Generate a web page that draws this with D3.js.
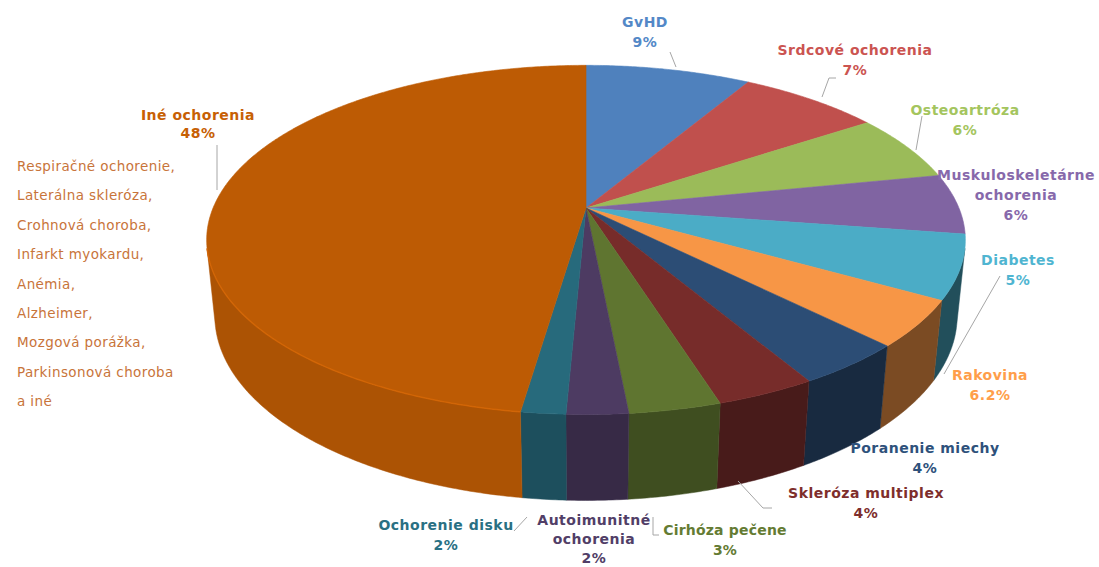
<!DOCTYPE html>
<html><head><meta charset="utf-8">
<script src="https://cdn.jsdelivr.net/npm/d3@7"></script>
<style>body{margin:0;background:#fff}</style></head>
<body><svg id="c" width="1099" height="567"></svg>
<script>
const categories = ["GvHD","Srdcové ochorenia","Osteoartróza","Muskuloskeletárne ochorenia","Diabetes","Rakovina","Poranenie miechy","Skleróza multiplex","Cirhóza pečene","Autoimunitné ochorenia","Ochorenie disku","Iné ochorenia"];
const values = [8.4, 7.2, 6.2, 5.6, 5.9, 4.3, 4.0, 3.6, 3.3, 2.2, 1.6, 47.7];
const percentLabels = ["9%","7%","6%","6%","5%","6.2%","4%","4%","3%","2%","2%","48%"];
const labelLines = [["GvHD"],["Srdcové ochorenia"],["Osteoartróza"],["Muskuloskeletárne","ochorenia"],["Diabetes"],["Rakovina"],["Poranenie miechy"],["Skleróza multiplex"],["Cirhóza pečene"],["Autoimunitné","ochorenia"],["Ochorenie disku"],["Iné ochorenia"]];
const otherDiseases = ["Respiračné ochorenie,","Laterálna skleróza,","Crohnová choroba,","Infarkt myokardu,","Anémia,","Alzheimer,","Mozgová porážka,","Parkinsonová choroba","a iné"];
const colors = ["#4F81BD","#C0504D","#9BBB59","#8064A2","#4BACC6","#F79646","#2C4D75","#772C2A","#5F7530","#4D3B62","#276A7C","#BD5B04"];

// layout (screen)
const labelPos = [[645,27],[855,55],[965,115],[1016,180],[1018,265],[990,380],[925,453],[866,498],[725,535],[594,525],[446,530],[198,120]];
const leaders = [
  [[670,52],[676,67]],
  [[836,78],[829,78],[822,97]],
  [[922,116],[916,150]],
  null,
  [[1000,276],[944,374]],
  null, null,
  [[738,481],[763,508],[772,508]],
  [[653,517],[653,535],[659,535]],
  null,
  [[514,531],[527,517]],
  [[217,145],[217,190]]
];

const svg = d3.select("#c");
const cx = 586, cy = 208;
const tilt = 26.9 * Math.PI/180;
const Dcam = 4.88, focal = 1820, thick = 0.23;

function proj(theta, y) {
  const X = Math.sin(theta), Z = Math.cos(theta);
  const yc = y*Math.cos(tilt) + Z*Math.sin(tilt);
  const zc = Dcam + Z*Math.cos(tilt) - y*Math.sin(tilt);
  return [cx + focal*X/zc, cy - focal*yc/zc];
}
function arcPts(a0, a1, y) {
  const n = Math.max(2, Math.ceil(Math.abs(a1-a0)/(Math.PI/360)));
  return d3.range(n+1).map(i => proj(a0 + (a1-a0)*i/n, y));
}
const line = d3.line();

const pie = d3.pie().sort(null).value(d => d)(values);

// visible wall range
const cLim = -1/(Dcam*Math.cos(tilt));
const wLo = Math.acos(cLim), wHi = 2*Math.PI - wLo;

const gWall = svg.append("g");
pie.forEach((p, i) => {
  const lo = Math.max(p.startAngle, wLo), hi = Math.min(p.endAngle, wHi);
  if (hi <= lo) return;
  const mid = (lo+hi)/2;
  const t = Math.max(0.08, 0.28 + 0.28*Math.sin(mid));
  const col = d3.interpolateRgb(colors[i], "#000")(t);
  const pts = arcPts(lo, hi, 0).concat(arcPts(hi, lo, -thick));
  gWall.append("path").attr("d", line(pts) + "Z").attr("fill", col).attr("stroke", col).attr("stroke-width", 0.5);
});

const gTop = svg.append("g");
pie.forEach((p, i) => {
  const pts = [[cx, cy]].concat(arcPts(p.startAngle, p.endAngle, 0));
  const col = colors[i];
  gTop.append("path").attr("d", line(pts) + "Z").attr("fill", col).attr("stroke", col).attr("stroke-width", 0.6).attr("stroke-linejoin","round");
});
// light rim on the front edge of the largest slice
const big = pie[11];
svg.append("path").attr("d", line(arcPts(Math.max(big.startAngle, wLo), Math.min(big.endAngle, wHi), 0)))
  .attr("fill","none").attr("stroke", d3.color(colors[11]).brighter(0.35)).attr("stroke-width", 1.5).attr("opacity", 0.8);

// leader lines
leaders.forEach(l => {
  if (!l) return;
  svg.append("path").attr("d", line(l)).attr("fill","none").attr("stroke","#a6a6a6").attr("stroke-width",1);
});

// labels
const font = "'DejaVu Sans', Verdana, sans-serif";
categories.forEach((c, i) => {
  const lines = labelLines[i].concat([percentLabels[i]]);
  const col = d3.color(colors[i]).brighter(0.15);
  const t = svg.append("text").attr("x", labelPos[i][0]).attr("y", labelPos[i][1])
    .attr("text-anchor","middle").attr("font-family", font).attr("font-weight","bold")
    .attr("font-size", 14).attr("letter-spacing", i === 8 ? 0.2 : 0.5).attr("fill", col);
  const gap = i === 11 ? 18 : (i === 9 ? 19 : 20);
  lines.forEach((s, k) => t.append("tspan").attr("x", labelPos[i][0]).attr("dy", k === 0 ? 0 : gap).text(s));
});

const lt = svg.append("text").attr("font-family", font).attr("font-size", 13.5).attr("letter-spacing", 0.4).attr("fill", "#C8743A");
otherDiseases.forEach((s, k) => lt.append("tspan").attr("x", 17).attr("y", 171 + k*29.4).text(s));
</script>
</body></html>
